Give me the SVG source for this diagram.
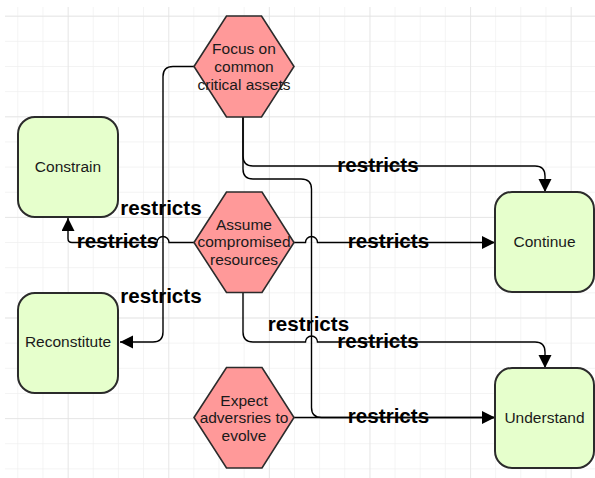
<svg xmlns="http://www.w3.org/2000/svg" width="595" height="478" viewBox="0 0 595 478">
  <defs>
    <pattern id="minorGrid" patternUnits="userSpaceOnUse" x="17.3" y="15.7" width="25.15" height="25.15">
      <path d="M0,0 H25.15 M0,0 V25.15" fill="none" stroke="#efefef" stroke-width="1.3"/>
    </pattern>
    <pattern id="majorGrid" patternUnits="userSpaceOnUse" x="-32.9" y="15.7" width="100.6" height="100.6">
      <path d="M0,0 H100.6 M0,0 V100.6" fill="none" stroke="#e2e2e2" stroke-width="1.3"/>
    </pattern>
    <marker id="arrow" markerUnits="userSpaceOnUse" markerWidth="14" markerHeight="14" refX="13" refY="6.5" orient="auto">
      <path d="M0,0 L13,6.5 L0,13 Z" fill="#000"/>
    </marker>
    <style>
      .step { fill: #e6ffcc; stroke: #2b2b2b; stroke-width: 2; }
      .hex { fill: #ff9999; stroke: #2b2b2b; stroke-width: 1.6; }
      .node-text { font-family: "Liberation Sans", Arial, sans-serif; font-size: 15.5px; fill: #1a1a1a; text-anchor: middle; }
      .edge { fill: none; stroke: #000; stroke-width: 1.4; }
      .edge-label { font-family: "Liberation Sans", Arial, sans-serif; font-size: 20.6px; font-weight: bold; fill: #000; text-anchor: middle; }
    </style>
  </defs>

  <!-- background grid -->
  <rect x="0" y="0" width="595" height="478" fill="#ffffff"/>
  <rect x="5" y="7" width="590" height="471" fill="url(#minorGrid)"/>
  <rect x="5" y="7" width="590" height="471" fill="url(#majorGrid)"/>

  <!-- connectors -->
  <g id="connectors">
    <!-- Focus -> Reconstitute -->
    <path class="edge" d="M194,66.5 H173 Q163,66.5 163,76.5 V332 Q163,342 153,342 H120" marker-end="url(#arrow)"/>
    <!-- Focus -> Continue -->
    <path class="edge" d="M243,117 V156 Q243,166 253,166 H535 Q545,166 545,176 V192" marker-end="url(#arrow)"/>
    <!-- Focus -> Understand -->
    <path class="edge" d="M243,117 V169 Q243,179 253,179 H301 Q311.5,179 311.5,189 V407.5 Q311.5,417.5 321.5,417.5 H495"/>
    <!-- Assume -> Constrain (hops over the vertical at x=163) -->
    <path class="edge" d="M194,242.5 H169 A6,6 0 0 0 157,242.5 H72 Q68,242.5 68,238.5 V218" marker-end="url(#arrow)"/>
    <!-- Assume -> Continue -->
    <path class="edge" d="M294,242.5 H305.5 A6,6 0 0 1 317.5,242.5 H495" marker-end="url(#arrow)"/>
    <!-- Assume -> Understand -->
    <path class="edge" d="M243,292 V332 Q243,342 253,342 H305.5 A6,6 0 0 1 317.5,342 H535 Q545,342 545,352 V368" marker-end="url(#arrow)"/>
    <!-- Expect -> Understand -->
    <path class="edge" d="M294,417.5 H495" marker-end="url(#arrow)"/>

    <text class="edge-label" x="161" y="215">restricts</text>
    <text class="edge-label" x="117.5" y="247.5">restricts</text>
    <text class="edge-label" x="161" y="303">restricts</text>
    <text class="edge-label" x="378" y="171.5">restricts</text>
    <text class="edge-label" x="388.5" y="247.5">restricts</text>
    <text class="edge-label" x="308.5" y="330.5">restricts</text>
    <text class="edge-label" x="378" y="348">restricts</text>
    <text class="edge-label" x="388.5" y="423">restricts</text>
  </g>

  <!-- outcome nodes -->
  <g id="constrain">
    <rect class="step" x="18" y="117" width="100" height="100" rx="17"/>
    <text class="node-text" x="68" y="171.5">Constrain</text>
  </g>
  <g id="reconstitute">
    <rect class="step" x="18" y="293" width="100" height="100" rx="17"/>
    <text class="node-text" x="68" y="347">Reconstitute</text>
  </g>
  <g id="continue">
    <rect class="step" x="495" y="192" width="99" height="100" rx="17"/>
    <text class="node-text" x="544.5" y="246.5">Continue</text>
  </g>
  <g id="understand">
    <rect class="step" x="495" y="368" width="99" height="100" rx="17"/>
    <text class="node-text" x="544.5" y="423">Understand</text>
  </g>

  <!-- assumption nodes -->
  <g id="focus">
    <polygon class="hex" points="194,66.5 226.5,16 261.5,16 294,66.5 261.5,117 226.5,117"/>
    <text class="node-text" x="244" y="53.5">Focus on</text>
    <text class="node-text" x="244" y="71.5">common</text>
    <text class="node-text" x="244" y="89.5">critical assets</text>
  </g>
  <g id="assume">
    <polygon class="hex" points="194,242.5 226.5,192 262,192 294,242.5 262,292.5 226.5,292.5"/>
    <text class="node-text" x="244" y="229.5">Assume</text>
    <text class="node-text" x="244" y="247">compromised</text>
    <text class="node-text" x="244" y="265">resources</text>
  </g>
  <g id="expect">
    <polygon class="hex" points="194,417.5 226.5,367.5 262,367.5 294,417.5 262,468 226.5,468"/>
    <text class="node-text" x="244" y="405.5">Expect</text>
    <text class="node-text" x="244" y="423">adversries to</text>
    <text class="node-text" x="244" y="440.5">evolve</text>
  </g>
</svg>
